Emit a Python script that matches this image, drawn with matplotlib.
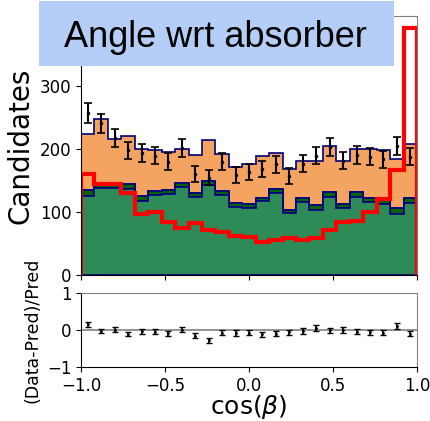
import numpy as np
import matplotlib
matplotlib.use("Agg")
import matplotlib.pyplot as plt
from matplotlib.patches import Rectangle

# 25 bins in cos(beta)
edges = np.linspace(-1, 1, 26)
centers = 0.5 * (edges[:-1] + edges[1:])

total = [224, 248, 217, 221, 200, 198, 196, 201, 191, 215, 193, 172, 177,
         190, 194, 168, 182, 181, 205, 181, 200, 201, 198, 184, 209]
green_top = [135, 147, 145, 145, 126, 134, 135, 146, 131, 150, 134, 114, 113,
             123, 137, 104, 123, 111, 132, 113, 132, 123, 120, 106, 122]
dark_band = [9, 8, 7, 8, 8, 7, 7, 6, 7, 7, 7, 6, 6,
             6, 7, 6, 7, 7, 8, 7, 8, 7, 7, 9, 8]
signal = [160, 145, 144, 131, 97, 100, 84, 74, 82, 71, 69, 62, 60,
          52, 55, 59, 56, 58, 71, 84, 85, 100, 121, 167, 393]
data = [258, 241, 218, 198, 194, 190, 180, 202, 161, 155, 180, 159, 164,
        169, 176, 157, 177, 190, 203, 182, 191, 188, 184, 205, 188]

total = np.array(total, float)
green_top = np.array(green_top, float)
dark_band = np.array(dark_band, float)
signal = np.array(signal, float)
data = np.array(data, float)

sea = green_top - dark_band
orange = total - green_top
err = np.sqrt(data)

fig = plt.figure(figsize=(4.31, 4.21), dpi=100)
ax = fig.add_axes([0.188, 0.347, 0.7795, 0.615])
rax = fig.add_axes([0.188, 0.128, 0.7795, 0.176])

ax.hist([centers, centers, centers], bins=edges, weights=[sea, dark_band, orange],
        stacked=True, histtype='stepfilled',
        color=['seagreen', 'darkgreen', 'sandybrown'], edgecolor='navy', linewidth=1.2)
ax.hist(centers, bins=edges, weights=signal, histtype='step', color='red', linewidth=3)
ax.errorbar(centers, data, yerr=err, fmt='.', color='black', markersize=3,
            capsize=3, elinewidth=1.5, capthick=1.2)

ax.set_xlim(-1, 1)
ax.set_ylim(0, 412)
ax.set_yticks([0, 100, 200, 300])
ax.set_xticks([-1, -0.5, 0, 0.5, 1])
ax.tick_params(labelbottom=False, labelsize=12)
ax.set_ylabel('Candidates', fontsize=20)

ratio = (data - total) / total
rerr = err / total
rax.axhline(0, color='gray', linewidth=1.2)
rax.errorbar(centers, ratio, yerr=rerr, fmt='.', color='black', markersize=2,
             capsize=2, elinewidth=1.2, capthick=1)
rax.set_xlim(-1, 1)
rax.set_ylim(-1, 1)
rax.set_yticks([-1, 0, 1])
rax.set_xticks([-1, -0.5, 0, 0.5, 1])
rax.tick_params(labelsize=12)
rax.set_ylabel('(Data-Pred)/Pred', fontsize=12.5)
rax.set_xlabel(r'$\cos(\beta)$', fontsize=18, labelpad=-1)

for a in (ax, rax):
    a.spines['top'].set_color('0.5')
    a.spines['right'].set_color('0.5')

# title box
box = Rectangle((0.0905, 0.843), 0.8237, 0.154, transform=fig.transFigure,
                facecolor='#b4cef8', edgecolor='none', zorder=5)
fig.add_artist(box)
fig.text(0.499, 0.888, 'Angle wrt absorber', ha='center', va='baseline',
         fontsize=26, family='Liberation Sans', zorder=6)

fig.savefig('out.png', dpi=100)
